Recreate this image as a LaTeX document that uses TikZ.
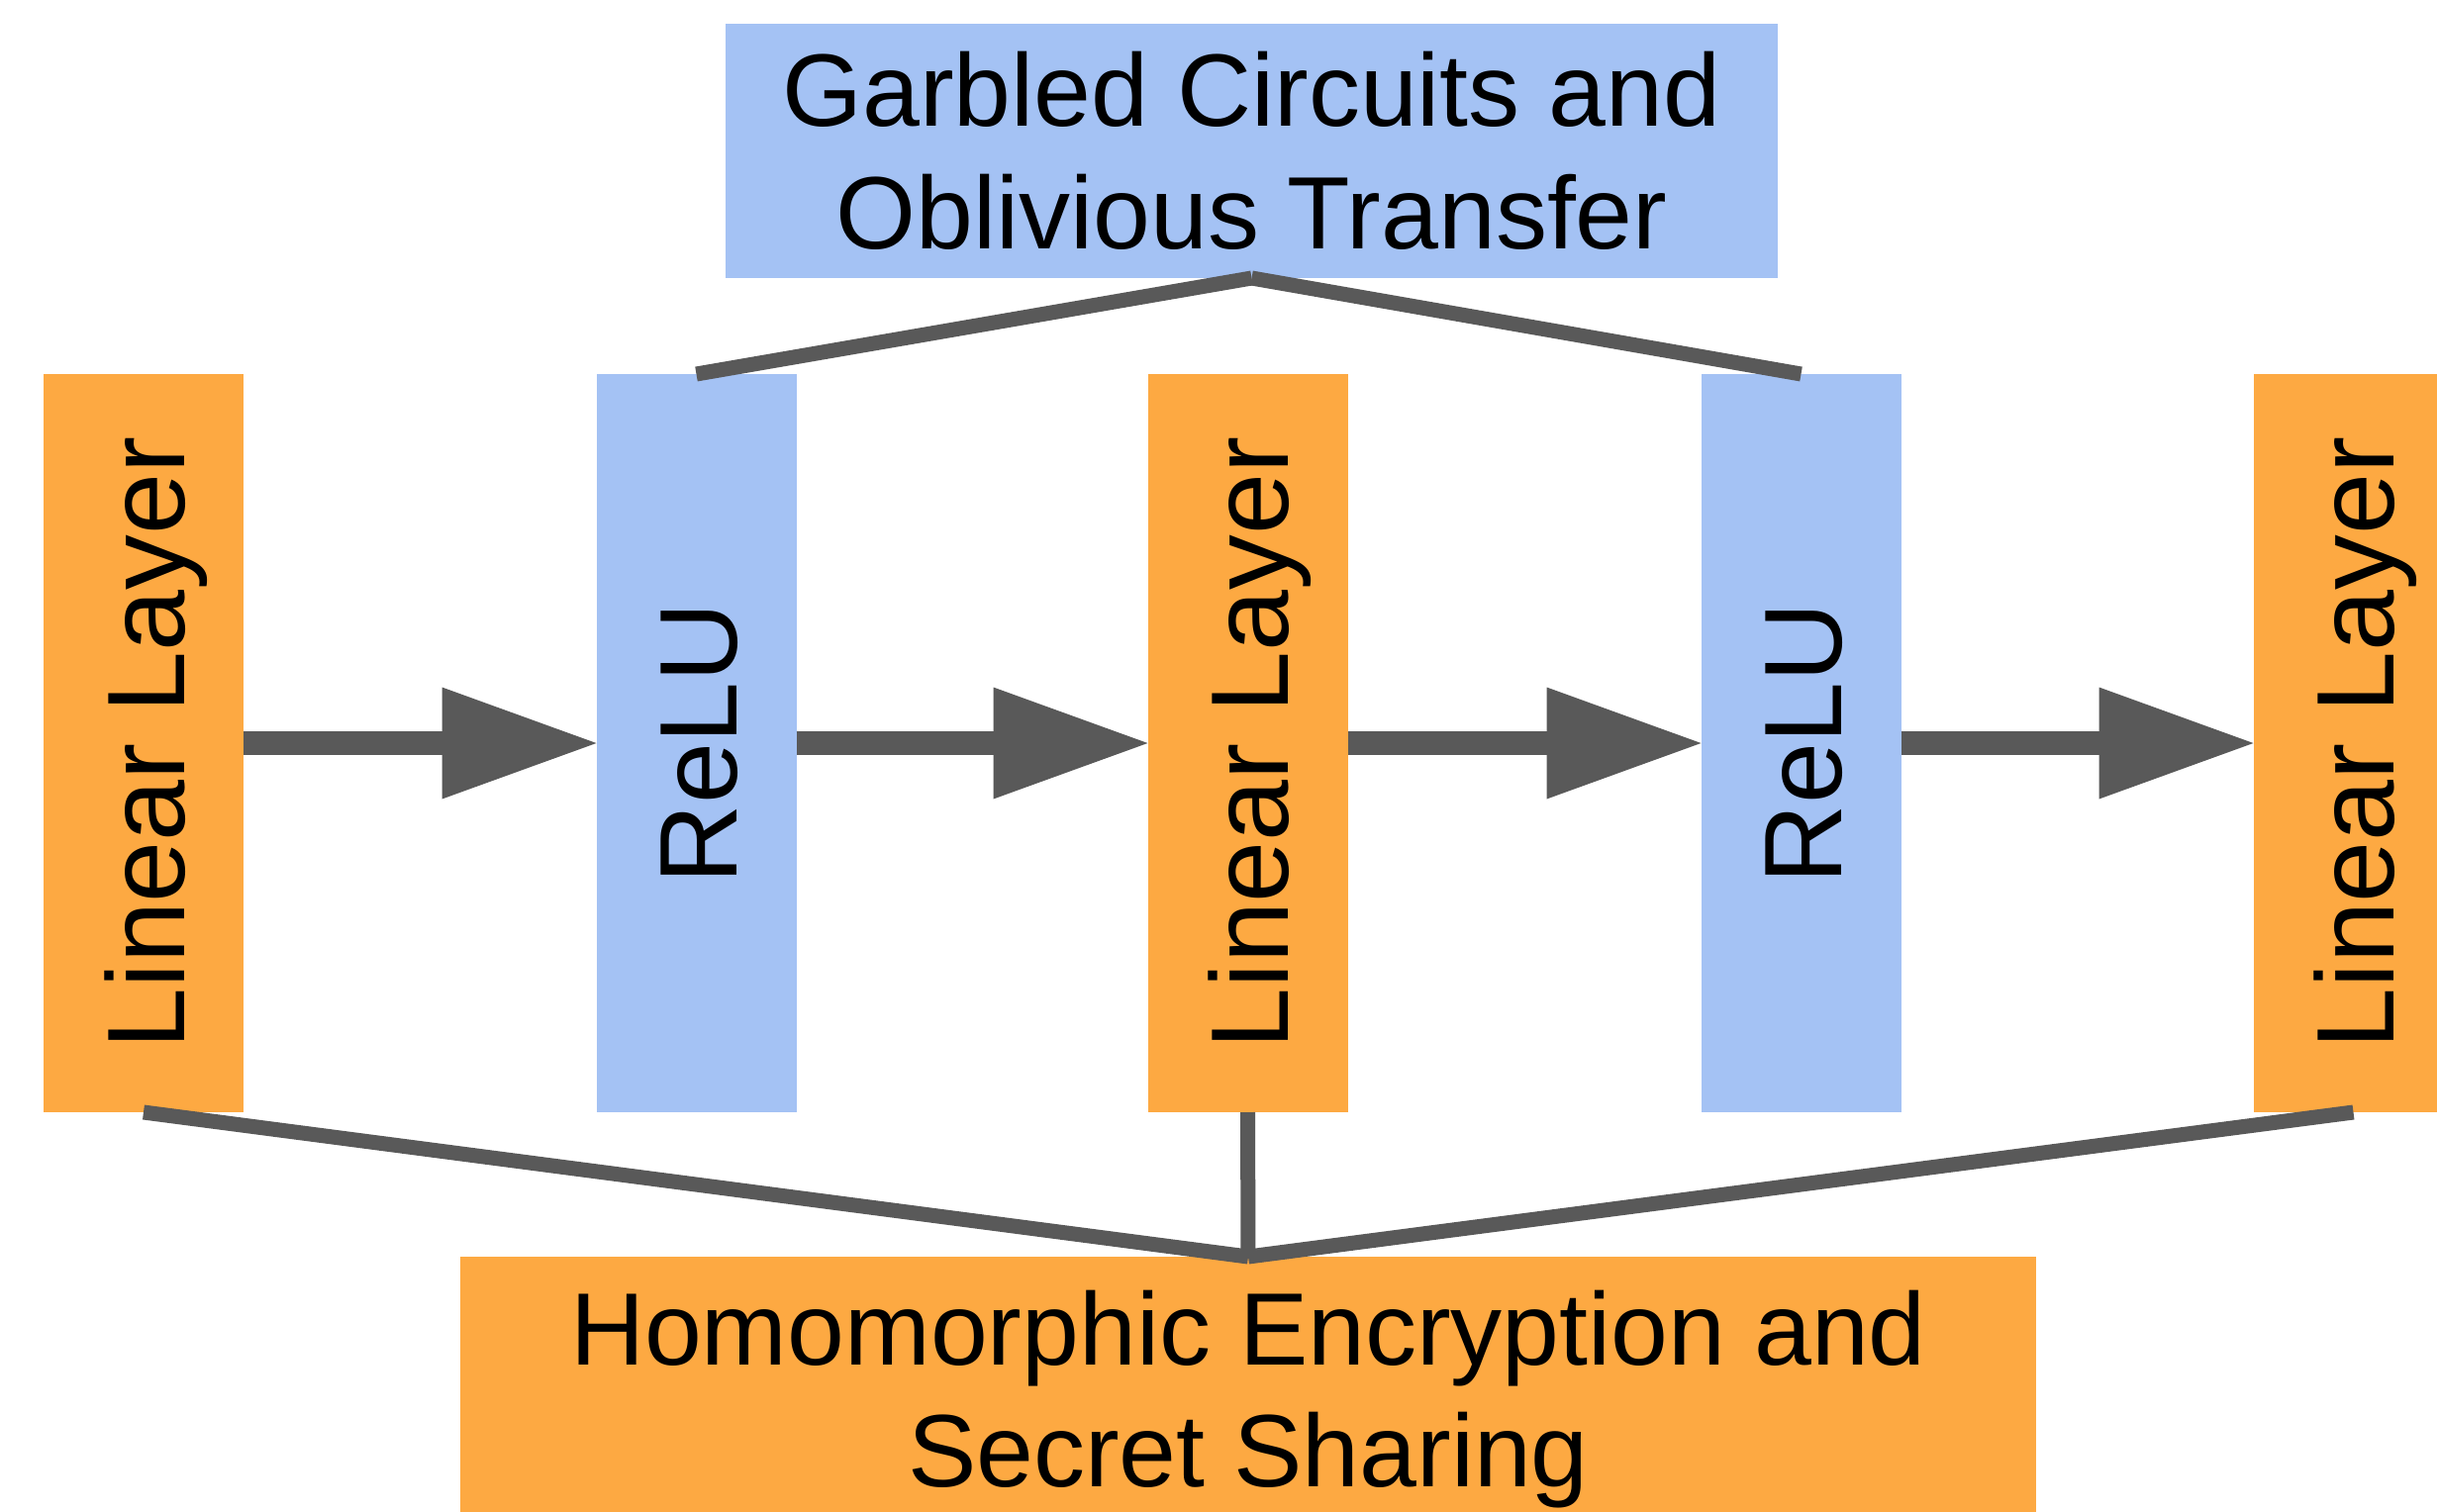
\documentclass[tikz,border=0pt]{standalone}
\usepackage{fontspec}
\setmainfont{Liberation Sans}
\usetikzlibrary{arrows.meta}
\definecolor{orng}{HTML}{FDA942}
\definecolor{blu}{HTML}{A4C2F4}
\definecolor{lgray}{HTML}{595959}
\newcommand{\vtext}[1]{\rotatebox{90}{\raisebox{-20.7pt}[0pt][0pt]{#1}}}
\begin{document}
\begin{tikzpicture}[x=0.5pt,y=-0.5pt,
  bx/.style={inner sep=0pt, outer sep=0pt, align=center, text=black},
  col/.style={bx, minimum width=101pt, minimum height=373pt, font=\fontsize{55.7}{65}\selectfont},
  lin/.style={col, fill=orng},
  relu/.style={col, fill=blu},
  wide/.style={bx, font=\fontsize{52}{61.7}\selectfont},
  arr/.style={line width=12pt, draw=lgray, -{Triangle[length=78pt,width=56.5pt,line width=0pt,fill=lgray]}},
  conn/.style={line width=7.5pt, draw=lgray}]
\useasboundingbox (0,0) rectangle (2462,1527);
\node[lin]  (l1) at (145,751)    {\vtext{Linear Layer}};
\node[relu] (r1) at (703.5,751)  {\vtext{ReLU}};
\node[lin]  (l2) at (1260.5,751) {\vtext{Linear Layer}};
\node[relu] (r2) at (1819.5,751) {\vtext{ReLU}};
\node[lin]  (l3) at (2377.5,751) {\vtext{Linear Layer}};
\node[wide, fill=blu, minimum width=531.5pt, minimum height=128.5pt] (top) at (1264.5,152.5) {Garbled Circuits and\\Oblivious Transfer};
\node[wide, fill=orng, minimum width=796pt, minimum height=144pt] (bot) at (1261,1414) {Homomorphic Encryption and\\Secret Sharing};
\draw[arr] (l1.east) -- (r1.west);
\draw[arr] (r1.east) -- (l2.west);
\draw[arr] (l2.east) -- (r2.west);
\draw[arr] (r2.east) -- (l3.west);
\draw[conn] (top.south) -- (r1.north);
\draw[conn] (top.south) -- (r2.north);
\draw[conn] (l1.south) -- (bot.north);
\draw[conn] (l2.south) -- (bot.north);
\draw[conn] (l3.south) -- (bot.north);
\end{tikzpicture}
\end{document}
